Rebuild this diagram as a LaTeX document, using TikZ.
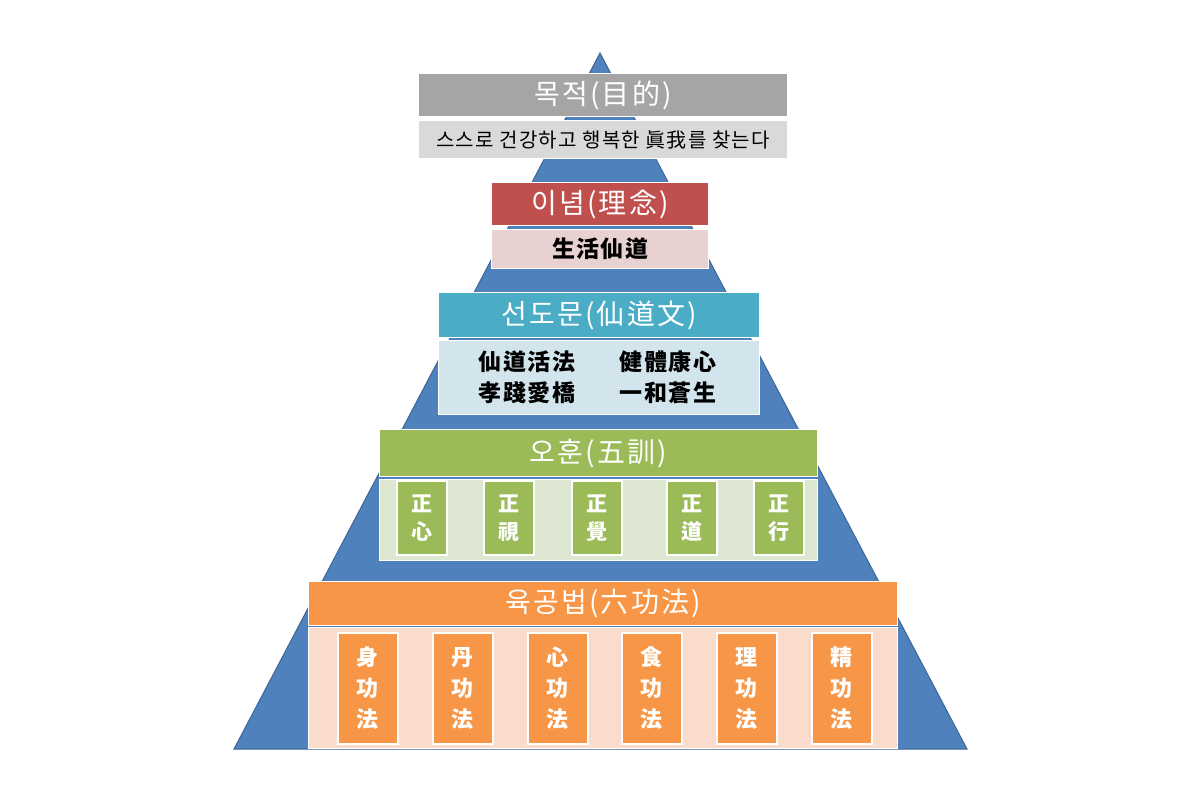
\documentclass[tikz,border=0pt]{standalone}
\usepackage{fontspec}
\setmainfont{Noto Sans CJK KR}
\newfontfamily\kr{Noto Sans CJK KR}
\newfontfamily\krsp{Noto Sans CJK KR}[LetterSpace=8]
\newfontfamily\krsub{Noto Sans CJK KR}[LetterSpace=6]
\definecolor{triFill}{HTML}{4F81BD}
\definecolor{triLine}{HTML}{3D6698}
\definecolor{grayH}{HTML}{A5A5A5}
\definecolor{grayS}{HTML}{D9D9D9}
\definecolor{redH}{HTML}{C0504D}
\definecolor{redS}{HTML}{E8D1D1}
\definecolor{blueH}{HTML}{4BACC6}
\definecolor{blueS}{HTML}{D2E4EC}
\definecolor{greenH}{HTML}{9BBB59}
\definecolor{greenS}{HTML}{DDE7D2}
\definecolor{orangeH}{HTML}{F79646}
\definecolor{orangeS}{HTML}{FBDBCB}
\tikzset{
  base/.style={draw=white, line width=1.2pt, anchor=north west, inner sep=0pt, align=center},
  hdr/.style={base, text=white, font=\krsp\fontsize{28}{32}\selectfont},
  subtxt/.style={base, text=black},
  cellA/.style={base, line width=1.6pt, text=white, fill=greenH, minimum width=50pt, minimum height=74pt, font=\kr\bfseries\fontsize{21}{28}\selectfont},
  cellB/.style={base, line width=1.6pt, text=white, fill=orangeH, minimum width=60pt, minimum height=111pt, font=\kr\bfseries\fontsize{22}{31}\selectfont},
  tri/.style={fill=triFill, draw=triLine, line width=1pt, line join=miter}
}
\begin{document}
\begin{tikzpicture}[x=1pt,y=-1pt]
\useasboundingbox (0,0) rectangle (1200,800);
\fill[white] (0,0) rectangle (1200,800);
% pyramid
\draw[tri] (234,749) -- (600,53) -- (967,749) -- cycle;
% level 1
\node[hdr, fill=grayH, minimum width=369pt, minimum height=43pt] (h1) at (418,73) {목적(目的)};
\node[subtxt, fill=grayS, minimum width=369pt, minimum height=38pt, font=\krsub\fontsize{20}{24}\selectfont] (s1) at (418,120) {스스로 건강하고 행복한 眞我를 찾는다};
% level 2
\node[hdr, fill=redH, minimum width=217pt, minimum height=43pt] (h2) at (491,182) {이념(理念)};
\node[subtxt, fill=redS, minimum width=217pt, minimum height=39pt, font=\krsub\bfseries\fontsize{23}{26}\selectfont] (s2) at (491,229) {生活仙道};
% level 3
\node[hdr, fill=blueH, minimum width=321pt, minimum height=45pt] (h3) at (438,292) {선도문(仙道文)};
\node[subtxt, fill=blueS, minimum width=321pt, minimum height=74pt] (s3) at (438,340) {};
\node[font=\krsub\bfseries\fontsize{23}{31}\selectfont, align=center, inner sep=0pt] (t3a) at (527,377) {仙道活法\\孝踐愛橋};
\node[font=\krsub\bfseries\fontsize{23}{31}\selectfont, align=center, inner sep=0pt] (t3b) at (668,377) {健體康心\\一和蒼生};
% level 4
\node[hdr, fill=greenH, minimum width=438pt, minimum height=47pt] (h4) at (379,429) {오훈(五訓)};
\node[subtxt, fill=greenS, minimum width=438pt, minimum height=81pt] (s4) at (379,479) {};
\node[cellA] (c41) at (396,480) {正\\心};
\node[cellA] (c42) at (483,480) {正\\視};
\node[cellA] (c43) at (571,480) {正\\覺};
\node[cellA] (c44) at (666,480) {正\\道};
\node[cellA] (c45) at (753,480) {正\\行};
% level 5
\node[hdr, fill=orangeH, minimum width=589pt, minimum height=44pt] (h5) at (308,581) {육공법(六功法)};
\node[subtxt, fill=orangeS, minimum width=589pt, minimum height=121pt] (s5) at (308,627) {};
\node[cellB] (c51) at (337,632) {身\\功\\法};
\node[cellB] (c52) at (432,632) {丹\\功\\法};
\node[cellB] (c53) at (527,632) {心\\功\\法};
\node[cellB] (c54) at (621,632) {食\\功\\法};
\node[cellB] (c55) at (716,632) {理\\功\\法};
\node[cellB] (c56) at (811,632) {精\\功\\法};
\end{tikzpicture}
\end{document}
